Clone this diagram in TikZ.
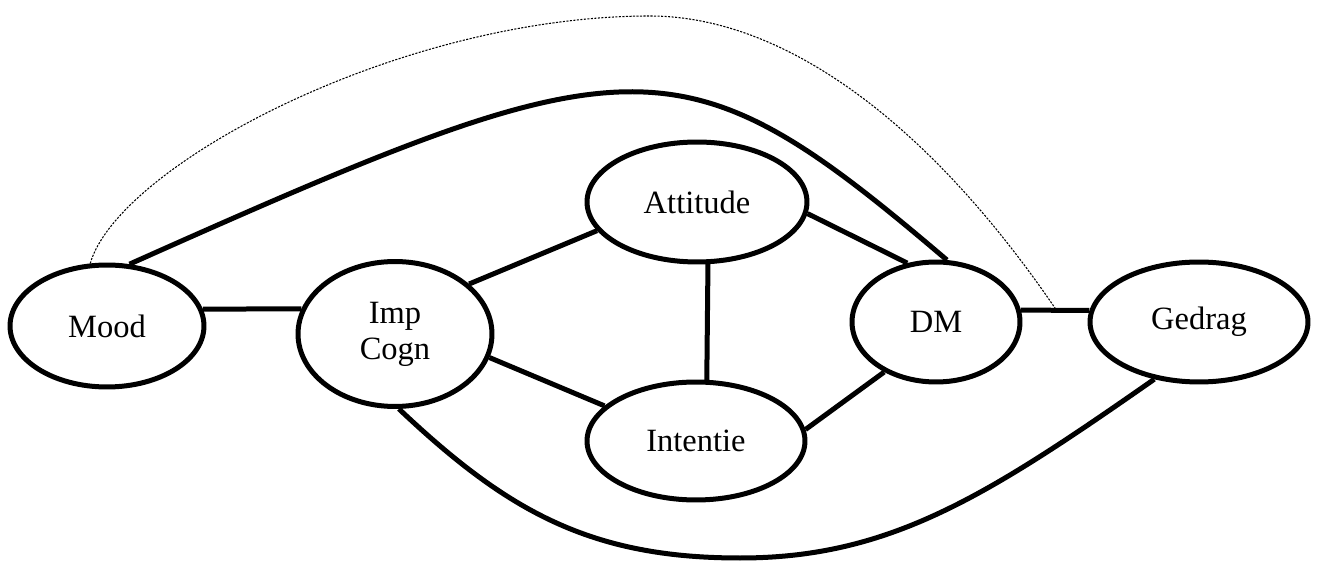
\documentclass[tikz,border=0pt]{standalone}
\usepackage{fontspec}
\setmainfont{Liberation Serif}
\usetikzlibrary{shapes.geometric}
\begin{document}
\begin{tikzpicture}[x=0.02cm,y=-0.02cm,
  font=\fontsize{18.5}{20.5}\selectfont,
  concept/.style={draw,ellipse,line width=0.1cm,inner sep=0pt},
  link/.style={line width=0.1cm},
  moderator/.style={dash pattern=on 1.2pt off 0.8pt,line width=0.6pt},
  every node/.style={align=center}]

\useasboundingbox (0,0) rectangle (1318,563);

%draw concepts
  \node[concept,minimum width=3.88cm,minimum height=2.44cm] (mood) at (107,326) {Mood};
  \node[concept,minimum width=3.88cm,minimum height=2.9cm] (imp) at (395,334) {Imp\\Cogn};
  \node[concept,minimum width=4.4cm,minimum height=2.4cm] (att) at (697,202) {Attitude};
  \node[concept,minimum width=4.36cm,minimum height=2.36cm] (int) at (696,441) {Intentie};
  \node[concept,minimum width=3.36cm,minimum height=2.4cm] (dm) at (936,322) {DM};
  \node[concept,minimum width=4.36cm,minimum height=2.4cm] (ged) at (1199,322) {Gedrag};

%straight links
  \foreach \a/\b in {mood.10/imp.165, imp.34/att.-164, imp.-14/int.159,
                     att.-80/int.80, att.-6/dm.116, int.6/dm.-136}
    \draw[link] (\a) -- (\b);
  \draw[link] (dm.8) -- coordinate[pos=0.52] (mod) (ged.174);

%curved links
  \coordinate (low) at (740,558);
  \draw[link] (mood.70) .. controls (636,38) and (679,32) .. (dm.80);
  \draw[link] (imp.-87) .. controls (507,511) and (590,558) .. (low)
                        .. controls (890,558) and (987,496) .. (ged.-128);

%moderating path
  \coordinate (top) at (650,16);
  \draw[moderator] (mood.105) .. controls (118.6,165.4) and (400,16) .. (top)
                              .. controls (780,16) and (925,117) .. (mod);

\end{tikzpicture}
\end{document}
